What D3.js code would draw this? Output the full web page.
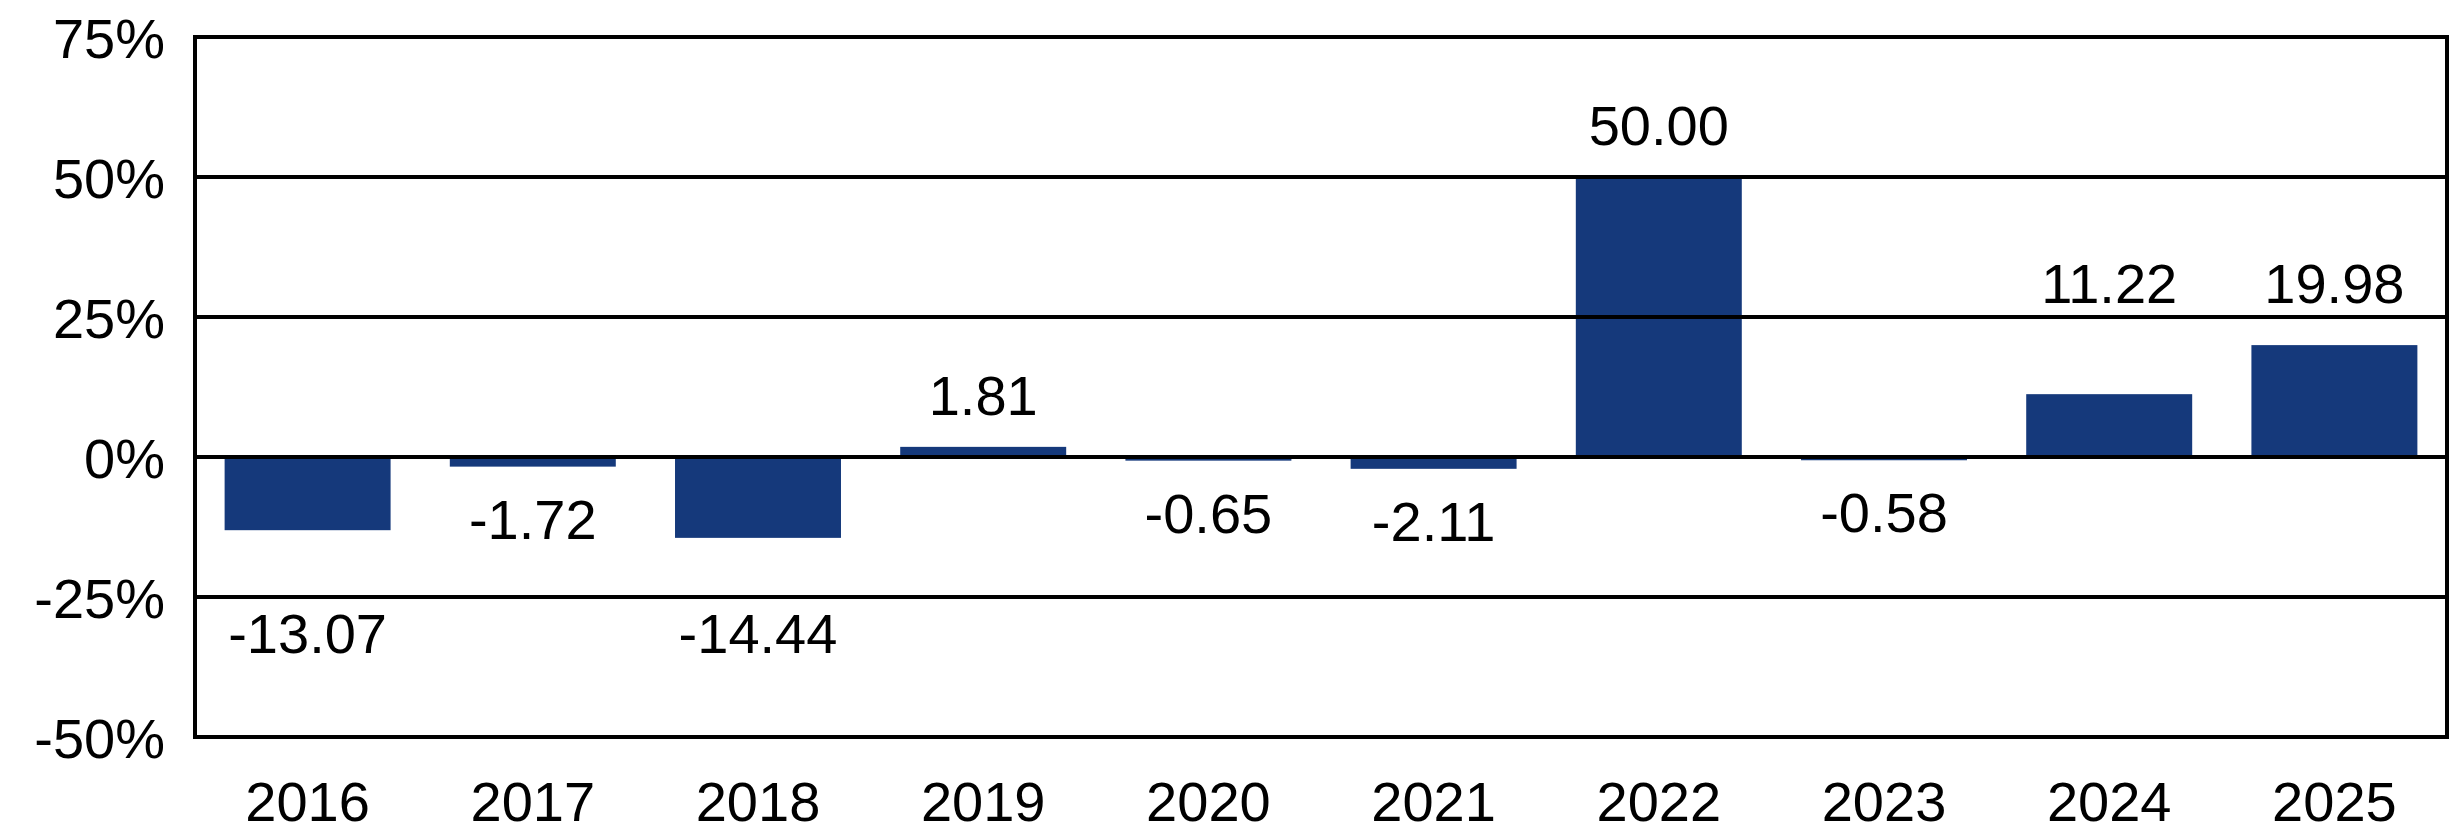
<!DOCTYPE html>
<html>
<head>
<meta charset="utf-8">
<script src="https://cdn.jsdelivr.net/npm/d3@7"></script>
<style>
  body { margin: 0; background: #fff; }
  text { font-family: "Liberation Sans", Arial, Helvetica, sans-serif; fill: #000; }
</style>
</head>
<body>
<svg id="grafico"></svg>
<script>
// dados do gráfico
const anos = ['2016', '2017', '2018', '2019', '2020', '2021', '2022', '2023', '2024', '2025'];
const retornos = [-13.07, -1.72, -14.44, 1.81, -0.65, -2.11, 50.00, -0.58, 11.22, 19.98];
const ticksY = [-50, -25, 0, 25, 50, 75];

const largura = 2450, altura = 833;
const margem = { topo: 37, direita: 3, baixo: 96, esquerda: 195 };
const larguraPlotagem = largura - margem.esquerda - margem.direita;
const alturaPlotagem = altura - margem.topo - margem.baixo;
const fonte = 56;
const alturaCaps = fonte * 0.716;

// formato com hífen comum no lugar do sinal de menos tipográfico
const local = d3.formatLocale({ decimal: '.', thousands: ',', grouping: [3], currency: ['', ''], minus: '-' });
const formato = local.format('.2f');

let svg = d3.select('#grafico')
  .attr('width', largura)
  .attr('height', altura);

let plotagem = svg.append('g')
  .attr('transform', `translate(${margem.esquerda}, ${margem.topo})`);

// escalas
let fnX = d3.scaleBand()
  .domain(anos)
  .range([0, larguraPlotagem])
  .paddingInner(0.263)
  .paddingOuter(0.1315);

let fnY = d3.scaleLinear()
  .domain([-50, 75])
  .range([alturaPlotagem, 0]);

// barras
plotagem.selectAll('.barra')
  .data(retornos)
  .enter()
  .append('rect')
  .classed('barra', true)
  .attr('x', (d, i) => fnX(anos[i]))
  .attr('width', fnX.bandwidth())
  .attr('y', d => fnY(Math.max(0, d)))
  .attr('height', d => Math.abs(fnY(d) - fnY(0)))
  .attr('fill', '#15397b');

// linhas de grade (por cima das barras)
plotagem.selectAll('.grade')
  .data(ticksY)
  .enter()
  .append('line')
  .classed('grade', true)
  .attr('x1', 0)
  .attr('x2', larguraPlotagem)
  .attr('y1', d => fnY(d))
  .attr('y2', d => fnY(d))
  .attr('stroke', '#000')
  .attr('stroke-width', 4);

// moldura
plotagem.append('rect')
  .attr('x', 0)
  .attr('y', 0)
  .attr('width', larguraPlotagem)
  .attr('height', alturaPlotagem)
  .attr('fill', 'none')
  .attr('stroke', '#000')
  .attr('stroke-width', 4);

// eixo y
let eixoY = plotagem.append('g')
  .call(d3.axisLeft(fnY).tickValues(ticksY).tickSize(0).tickPadding(30).tickFormat(d => d + '%'));
eixoY.select('.domain').remove();
eixoY.selectAll('text')
  .attr('dy', '0.358em')
  .style('font-size', fonte + 'px')
  .style('font-family', '"Liberation Sans", Arial, Helvetica, sans-serif')
  .attr('fill', '#000');

// eixo x
let eixoX = plotagem.append('g')
  .attr('transform', `translate(0, ${alturaPlotagem})`)
  .call(d3.axisBottom(fnX).tickSize(0).tickPadding(44));
eixoX.select('.domain').remove();
eixoX.selectAll('text')
  .style('font-size', fonte + 'px')
  .style('font-family', '"Liberation Sans", Arial, Helvetica, sans-serif')
  .attr('fill', '#000');

// posição dos rótulos: 32px além da ponta da barra, fugindo das linhas de grade
function posicaoRotulo(d) {
  let gradePx = ticksY.filter(t => t !== 0).map(t => fnY(t));
  let ponta = fnY(d);
  if (d >= 0) {
    let base = ponta - 32;
    let choque = gradePx.find(g => g > base - alturaCaps - 12 && g < base + 12);
    if (choque !== undefined) base = choque - 14;
    return base;
  } else {
    let base = ponta + 32 + alturaCaps;
    let choque = gradePx.find(g => g > base - alturaCaps - 12 && g < base + 12);
    if (choque !== undefined) base = choque + 16 + alturaCaps;
    return base;
  }
}

plotagem.selectAll('.rotulo')
  .data(retornos)
  .enter()
  .append('text')
  .classed('rotulo', true)
  .text(d => formato(d))
  .attr('x', (d, i) => fnX(anos[i]) + fnX.bandwidth() / 2)
  .attr('y', d => posicaoRotulo(d))
  .attr('text-anchor', 'middle')
  .style('font-size', fonte + 'px');
</script>
</body>
</html>
